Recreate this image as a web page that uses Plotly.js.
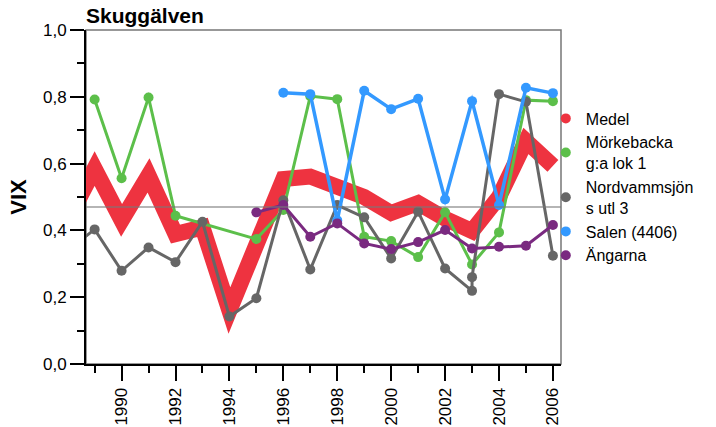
<!DOCTYPE html>
<html>
<head>
<meta charset="utf-8">
<script src="https://cdn.plot.ly/plotly-3.0.1.min.js"></script>
<style>
html,body{margin:0;padding:0;background:#fff;}
#chart{width:716px;height:427px;}
#chart path.js-line{stroke-linejoin:miter !important;stroke-miterlimit:4 !important;}
</style>
</head>
<body>
<div id="chart"></div>
<script>
// ---- data ----
const years = [1988,1989,1990,1991,1992,1993,1994,1995,1996,1997,1998,1999,2000,2001,2002,2003,2004,2005,2006];
const medel = [0.43,0.585,0.43,0.565,0.389,0.409,0.16,0.35,0.554,0.561,0.531,0.50,0.452,0.482,0.435,0.398,0.50,0.668,0.593];
const morkebacka = [null,0.792,0.556,0.798,0.444,null,null,0.374,0.461,0.802,0.793,0.381,0.368,0.320,0.454,0.298,0.394,0.790,0.787];
const nordYears = [1988,1989,1990,1991,1992,1993,1994,1995,1996,1997,1998,1999,2000,2001,2002,2003,2003,2004,2005,2006];
const nordvamm = [0.34,0.403,0.279,0.349,0.305,0.426,0.142,0.197,0.49,0.283,0.476,0.439,0.316,0.456,0.286,0.219,0.26,0.808,0.785,0.324];
const salen = [null,null,null,null,null,null,null,null,0.812,0.808,0.43,0.818,0.763,0.794,0.493,0.787,0.476,0.827,0.811];
const angarna = [null,null,null,null,null,null,null,0.454,0.476,0.381,0.421,0.361,0.344,0.365,0.401,0.346,0.351,0.354,0.416];
const refValue = 0.47;
const seriesNames = ['Medel','Mörkebacka<br>g:a lok 1','Nordvammsjön<br>s utl 3','Salen (4406)','Ängarna'];
const colors = ['#EE3340','#5CBF4A','#666666','#3399FF','#7A2A80'];
const chartTitle = 'Skuggälven';
const yTitle = 'VIX';

const FONT = 'Arial, "Liberation Sans", sans-serif';

const traces = [
  {x: years, y: medel, mode: 'lines', line: {color: colors[0], width: 16}, showlegend: false, hoverinfo: 'skip'},
  {x: years, y: morkebacka, mode: 'lines+markers', connectgaps: true, line: {color: colors[1], width: 3}, marker: {color: colors[1], size: 10}, showlegend: false},
  {x: nordYears, y: nordvamm, mode: 'lines+markers', line: {color: colors[2], width: 3}, marker: {color: colors[2], size: 10}, showlegend: false},
  {x: years, y: salen, mode: 'lines+markers', line: {color: colors[3], width: 3.5}, marker: {color: colors[3], size: 10}, showlegend: false},
  {x: years, y: angarna, mode: 'lines+markers', line: {color: colors[4], width: 3}, marker: {color: colors[4], size: 10}, showlegend: false}
];
// legend entries (dot symbols)
seriesNames.forEach((n, i) => {
  traces.push({x: [null], y: [null], mode: 'markers', name: n, marker: {color: colors[i], size: 10}, showlegend: true});
});

const layout = {
  width: 716, height: 427,
  margin: {l: 86, r: 155, t: 30, b: 63},
  paper_bgcolor: '#fff', plot_bgcolor: '#fff',
  separators: ', ',
  font: {family: FONT, color: '#000', size: 17},
  title: {text: '<b>' + chartTitle + '</b>', x: 86/716, xanchor: 'left', xref: 'container', y: 1 - 16/427, yanchor: 'middle', font: {size: 21, family: FONT, color: '#000'}},
  xaxis: {
    range: [1988.68, 2006.3], tick0: 1990, dtick: 2, tickangle: -90,
    ticks: 'outside', ticklen: 15, tickwidth: 2, tickcolor: '#000',
    minor: {dtick: 1, tick0: 1989, ticks: 'outside', ticklen: 7, tickwidth: 2, tickcolor: '#000', showgrid: false},
    showline: true, linecolor: '#000', linewidth: 2, showgrid: false, zeroline: false,
    tickfont: {size: 17, family: FONT, color: '#000'}
  },
  yaxis: {
    range: [0, 1], dtick: 0.2, tickformat: '.1f',
    ticks: 'outside', ticklen: 14, tickwidth: 2, tickcolor: '#000',
    minor: {dtick: 0.1, ticks: 'outside', ticklen: 7, tickwidth: 2, tickcolor: '#000', showgrid: false},
    showline: true, linecolor: '#000', linewidth: 2, showgrid: false, zeroline: false,
    tickfont: {size: 17, family: FONT, color: '#000'},
    title: {text: '<b>' + yTitle + '</b>', font: {size: 22, family: FONT, color: '#000'}, standoff: 10}
  },
  shapes: [
    {type: 'rect', xref: 'paper', yref: 'paper', x0: 0, x1: 1, y0: 0, y1: 1, line: {color: '#777', width: 1.5}, layer: 'below'},
    {type: 'line', xref: 'paper', yref: 'y', x0: 0, x1: 1, y0: refValue, y1: refValue, line: {color: 'rgba(120,120,120,0.55)', width: 2}, layer: 'above'}
  ],
  legend: {
    x: 0.968, xanchor: 'left', y: 0.786, yanchor: 'top',
    font: {size: 16, family: FONT, color: '#000'},
    bgcolor: 'rgba(0,0,0,0)', borderwidth: 0, tracegroupgap: 0, itemwidth: 30
  },
  showlegend: true
};

Plotly.newPlot('chart', traces, layout, {staticPlot: true, displayModeBar: false});
</script>
</body>
</html>
